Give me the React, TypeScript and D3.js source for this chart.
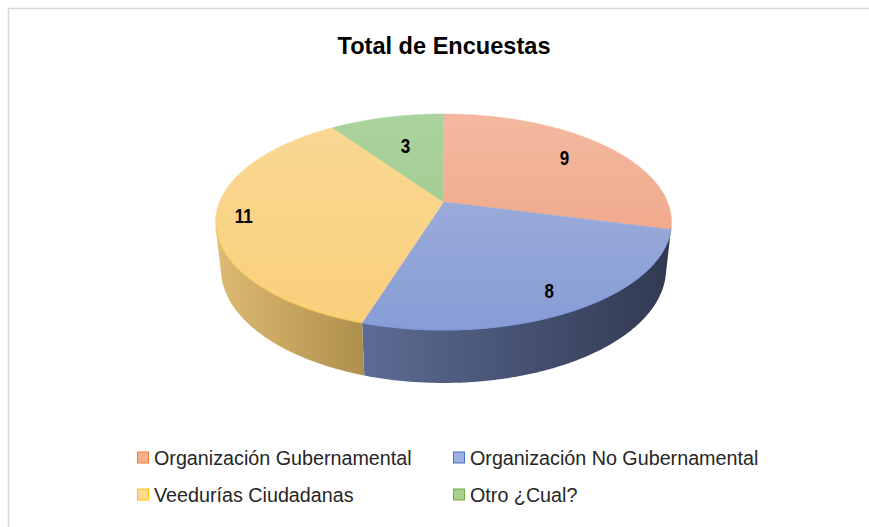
import React from "react";
import * as d3 from "d3";

const title = "Total de Encuestas";
const categories = [
  "Organización Gubernamental",
  "Organización No Gubernamental",
  "Veedurías Ciudadanas",
  "Otro ¿Cual?",
];
const values = [9, 8, 11, 3];

const topLight = ["#F3B9A0", "#A7B4DC", "#FAD894", "#ABD39D"];
const topDark = ["#EF9E7C", "#879DD6", "#F9CF7A", "#98C786"];
const sideLight = ["#D9926F", "#5D6C94", "#DEBA72", "#8AB074"];
const sideDark = ["#A8664A", "#313952", "#AE904D", "#5E8049"];
const edgeCol = ["#EE8A60", "#7E97DA", "#F6C548", "#86BE6A"];
const swatchFill = ["#F4B08E", "#9DB0E2", "#FFD98C", "#A9D18E"];
const swatchStroke = ["#ED7D31", "#4472C4", "#FFC000", "#70AD47"];
const labelR = [0.74, 0.84, 0.88, 0.63];

// projection parameters
const CX = 443.5;
const CY = 202;
const S = 224;
const SIN_A = 0.4656;
const COS_A = Math.sqrt(1 - SIN_A * SIN_A);
const DIST = 4.78;
const H = 0.239;

function proj(X: number, Y: number, Z: number): [number, number] {
  const depth = Z * COS_A + Y * SIN_A;
  const sc = DIST / (DIST - depth);
  return [CX + S * X * sc, CY + S * (Z * SIN_A - Y * COS_A) * sc];
}
function rim(theta: number, Y: number, r = 1): [number, number] {
  return proj(r * Math.sin(theta), Y, -r * Math.cos(theta));
}
function arcPts(a: number, b: number, Y: number): [number, number][] {
  const n = Math.max(2, Math.ceil(Math.abs(b - a) / 0.01));
  const pts: [number, number][] = [];
  for (let k = 0; k <= n; k++) pts.push(rim(a + ((b - a) * k) / n, Y));
  return pts;
}

const FONT = "'Liberation Sans', Arial, Helvetica, sans-serif";
const LEG_SCALE = 0.94;

export default function App() {
  const arcs = d3.pie<number>().sort(null).value((d) => d)(values);
  const line = d3.line<[number, number]>();
  const vis = Math.acos(-1 / (DIST * COS_A));
  const v1 = vis;
  const v2 = 2 * Math.PI - vis;

  const sides = arcs
    .map((a, i) => {
      const s = Math.max(a.startAngle, v1);
      const e = Math.min(a.endAngle, v2);
      if (s >= e) return null;
      const top = arcPts(s, e, 0);
      const bot = arcPts(e, s, -H);
      const pts = top.concat(bot);
      const xs = pts.map((p) => p[0]);
      return { i, d: line(pts) + "Z", x0: d3.min(xs)!, x1: d3.max(xs)! };
    })
    .filter(Boolean) as { i: number; d: string; x0: number; x1: number }[];

  const tops = arcs.map((a, i) => {
    const pts = [proj(0, 0, 0) as [number, number]].concat(arcPts(a.startAngle, a.endAngle, 0));
    return { i, d: line(pts) + "Z" };
  });

  const edges = arcs
    .map((a, i) => {
      const s = Math.max(a.startAngle, v1);
      const e = Math.min(a.endAngle, v2);
      if (s >= e) return null;
      return { i, d: line(arcPts(s, e, 0))! };
    })
    .filter(Boolean) as { i: number; d: string }[];

  const labels = arcs.map((a, i) => {
    const m = (a.startAngle + a.endAngle) / 2;
    const [x, y] = rim(m, 0, labelR[i]);
    return { i, x, y, text: String(values[i]) };
  });

  const [, topY] = rim(0, 0);
  const [, botY] = rim(Math.PI, 0);

  const legendX = [137, 453];
  const legendY = [458, 495];

  return (
    <svg
      width={869}
      height={527}
      style={{ position: "absolute", left: 0, top: 0, display: "block", background: "#fff" }}
    >
      <defs>
        {tops.map((t) => (
          <linearGradient
            key={"tg" + t.i}
            id={"tg" + t.i}
            gradientUnits="userSpaceOnUse"
            x1={0}
            y1={topY}
            x2={0}
            y2={botY}
          >
            <stop offset="0" stopColor={topLight[t.i]} />
            <stop offset="1" stopColor={topDark[t.i]} />
          </linearGradient>
        ))}
        {sides.map((s) => (
          <linearGradient
            key={"sg" + s.i}
            id={"sg" + s.i}
            gradientUnits="userSpaceOnUse"
            x1={s.x0}
            y1={0}
            x2={s.x1}
            y2={0}
          >
            <stop offset="0" stopColor={sideLight[s.i]} />
            <stop offset="1" stopColor={sideDark[s.i]} />
          </linearGradient>
        ))}
      </defs>
      <rect x={0} y={0} width={869} height={527} fill="#fff" />
      <rect x={8.5} y={8.5} width={900} height={600} fill="none" stroke="#D9D9D9" strokeWidth={1.5} />

      <text
        x={444}
        y={54}
        textAnchor="middle"
        fontFamily={FONT}
        fontWeight="bold"
        fontSize={24}
        textLength={213}
        lengthAdjust="spacingAndGlyphs"
        fill="#000"
      >
        {title}
      </text>

      {sides.map((s) => (
        <path key={"s" + s.i} d={s.d} fill={`url(#sg${s.i})`} />
      ))}
      {tops.map((t) => (
        <path key={"t" + t.i} d={t.d} fill={`url(#tg${t.i})`} stroke={`url(#tg${t.i})`} strokeWidth={0.5} />
      ))}
      {edges.map((e) => (
        <path key={"e" + e.i} d={e.d} fill="none" stroke={edgeCol[e.i]} strokeWidth={1} />
      ))}
      {labels.map((l) => (
        <text
          key={"l" + l.i}
          transform={`translate(${l.x},${l.y}) scale(0.85,1)`}
          textAnchor="middle"
          dominantBaseline="central"
          fontFamily={FONT}
          fontWeight="bold"
          fontSize={20}
          fill="#000"
        >
          {l.text}
        </text>
      ))}

      {categories.map((c, i) => {
        const col = i % 2;
        const row = Math.floor(i / 2);
        const x = legendX[col];
        const y = legendY[row];
        return (
          <g key={"lg" + i}>
            <rect
              x={x + 0.5}
              y={y - 6}
              width={11}
              height={11}
              fill={swatchFill[i]}
              stroke={swatchStroke[i]}
              strokeWidth={1}
            />
            <text
              transform={`translate(${x + 17},${y + 7}) scale(${LEG_SCALE},1)`}
              fontFamily={FONT}
              fontSize={21}
              fill="#262626"
            >
              {c}
            </text>
          </g>
        );
      })}
    </svg>
  );
}
